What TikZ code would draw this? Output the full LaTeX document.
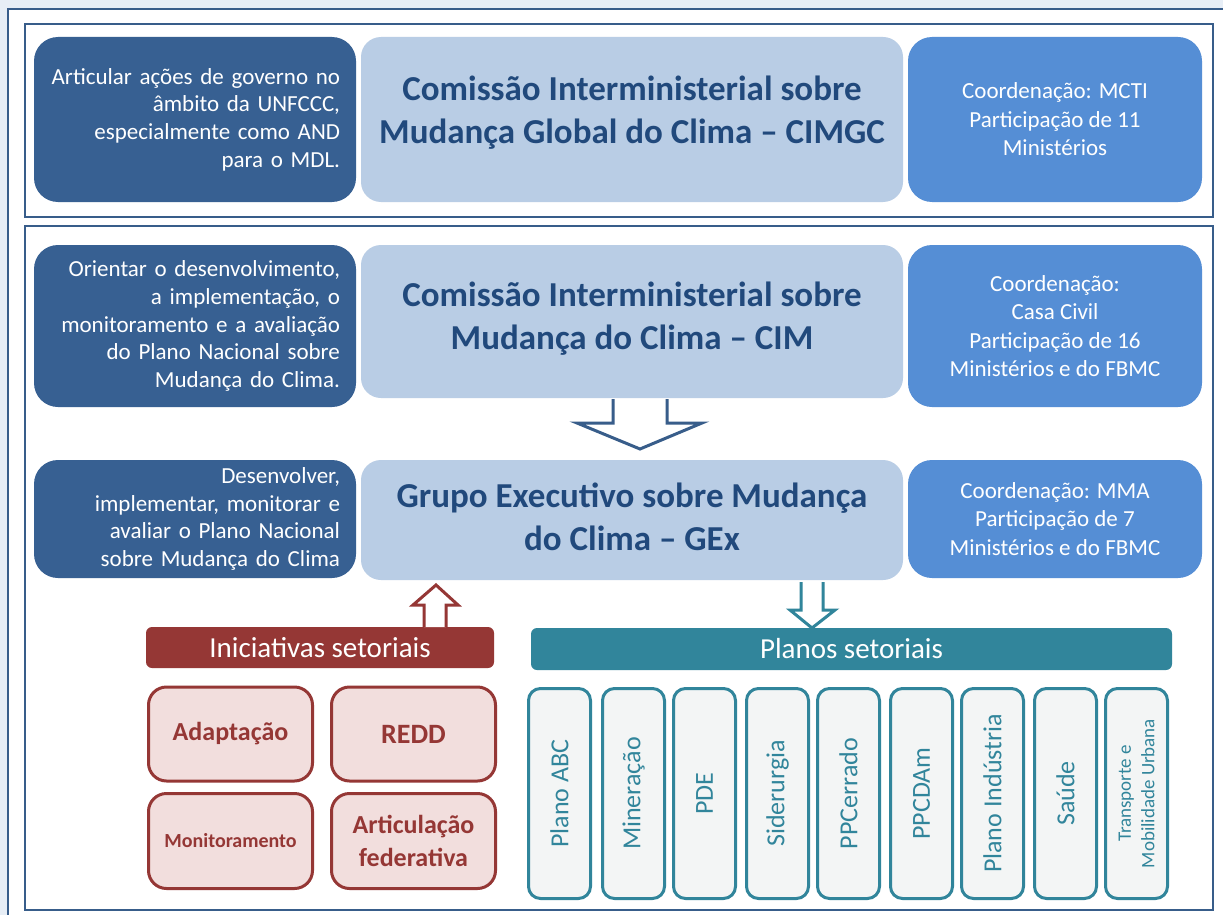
\documentclass[tikz,border=0pt]{standalone}
\usepackage{fontspec}
\setmainfont{Carlito}
\definecolor{bgc}{RGB}{231,238,246}
\definecolor{framec}{RGB}{56,93,138}
\definecolor{darkbox}{RGB}{55,96,146}
\definecolor{lightbox}{RGB}{185,205,229}
\definecolor{midbox}{RGB}{85,142,213}
\definecolor{titlec}{RGB}{33,73,124}
\definecolor{redc}{RGB}{149,55,53}
\definecolor{redfill}{RGB}{242,222,221}
\definecolor{tealc}{RGB}{49,133,155}
\definecolor{tealfill}{RGB}{243,245,245}
\begin{document}
\begin{tikzpicture}[x=1pt,y=-1pt,
	frame/.style={draw=framec,line width=2.5pt},
	aimbox/.style={fill=darkbox,rounded corners=24pt,text=white,align=right,text width=290pt,inner xsep=16pt,inner ysep=0pt,font=\fontsize{23}{27.6}\selectfont},
	titlebox/.style={fill=lightbox,rounded corners=20pt,minimum width=542pt},
	titletext/.style={text=titlec,align=center,font=\bfseries\fontsize{35}{43}\selectfont},
	coordbox/.style={fill=midbox,rounded corners=24pt,text=white,align=center,minimum width=294pt,font=\fontsize{23}{28.5}\selectfont},
	initbox/.style={draw=redc,fill=redfill,line width=3pt,rounded corners=18pt,minimum width=164pt,minimum height=94pt,text=redc,align=center,font=\bfseries\fontsize{26}{33}\selectfont},
	planbox/.style={draw=tealc,fill=tealfill,line width=3pt,rounded corners=12pt,rotate=90,minimum width=210pt,minimum height=62pt,inner sep=0pt,text=tealc,align=center,font=\fontsize{26}{30}\selectfont},
	bar/.style={rounded corners=6pt,text=white,font=\fontsize{29}{34}\selectfont},
	hollow/.style={fill=white,line width=3pt,line join=miter}]
	\useasboundingbox[fill=bgc] (0,0) rectangle (1223,915);
	\clip (0,0) rectangle (1223,915);
	\draw[draw=framec,line width=2pt,fill=white] (8,9) rectangle (1240,935);
	\draw[frame] (25,24) rectangle (1213,217);
	\draw[frame] (25,226) rectangle (1213,910);
	% CIMGC
	\node[aimbox,minimum height=165pt] (cimgcaim) at (195,119.5) {Articular ações de governo no\\âmbito da UNFCCC,\\especialmente como AND\\para o MDL.};
	\node[titlebox,minimum height=165pt] (cimgc) at (632,119.5) {};
	\node[titletext] (cimgctitle) at ([yshift=7pt]cimgc.center) {Comissão Interministerial sobre\\Mudança Global do Clima – CIMGC};
	\node[coordbox,minimum height=165pt] (cimgccoord) at (1055,119.5) {Coordenação: MCTI\\Participação de 11\\Ministérios};
	% CIM
	\node[aimbox,minimum height=162pt] (cimaim) at (195,326) {Orientar o desenvolvimento,\\a implementação, o\\monitoramento e a avaliação\\do Plano Nacional sobre\\Mudança do Clima.};
	\node[titlebox,minimum height=153pt] (cim) at (632,321.5) {};
	\node[titletext] (cimtitle) at ([yshift=3pt]cim.center) {Comissão Interministerial sobre\\Mudança do Clima – CIM};
	\node[coordbox,minimum height=162pt] (cimcoord) at (1055,326) {Coordenação:\\Casa Civil\\Participação de 16\\Ministérios e do FBMC};
	% GEx
	\node[aimbox,minimum height=118pt] (gexaim) at (195,519) {Desenvolver,\\implementar, monitorar e\\avaliar o Plano Nacional\\sobre Mudança do Clima};
	\node[titlebox,minimum height=120pt] (gex) at (632,520) {};
	\node[titletext] (gextitle) at ([yshift=3pt]gex.center) {Grupo Executivo sobre Mudança\\do Clima – GEx};
	\node[coordbox,minimum height=118pt] (gexcoord) at (1055,519) {Coordenação: MMA\\Participação de 7\\Ministérios e do FBMC};
	\filldraw[hollow,draw=framec] (613,399) |- (577,423) -- (640,449) -- (702,423) -| (667,399);
	% setoriais
	\node[bar,fill=redc,minimum width=348pt,minimum height=41pt] (inic) at (320,647.5) {Iniciativas setoriais};
	\node[bar,fill=tealc,minimum width=641pt,minimum height=42pt] (planos) at (851.5,649) {Planos setoriais};
	\filldraw[hollow,draw=redc] (424,627) |- (413,605) -- (436,585) -- (458,605) -| (446,627);
	\filldraw[hollow,draw=tealc] (801,582) |- (790,610) -- (812,628) -- (835,610) -| (823,582);
	\node[initbox] (adapt) at (230.5,734) {Adaptação};
	\node[initbox,font=\bfseries\fontsize{28}{33}\selectfont] (redd) at (413.5,734) {REDD};
	\node[initbox,minimum height=95pt,font=\bfseries\fontsize{20}{24}\selectfont] (monit) at (230.5,841) {Monitoramento};
	\node[initbox,minimum height=95pt] (artic) at (413.5,841) {Articulação\\federativa};
	\node[planbox] (abc) at (559.5,793.5) {Plano ABC};
	\node[planbox] (miner) at (633.5,793.5) {Mineração};
	\node[planbox] (pde) at (704.5,793.5) {PDE};
	\node[planbox] (sider) at (777.5,793.5) {Siderurgia};
	\node[planbox] (ppcerrado) at (848.5,793.5) {PPCerrado};
	\node[planbox] (ppcdam) at (921.5,793.5) {PPCDAm};
	\node[planbox] (industria) at (992.5,793.5) {Plano Indústria};
	\node[planbox] (saude) at (1065.5,793.5) {Saúde};
	\node[planbox,font=\fontsize{19}{23.5}\selectfont] (transp) at (1136.5,793.5) {Transporte e\\Mobilidade Urbana};
\end{tikzpicture}
\end{document}
